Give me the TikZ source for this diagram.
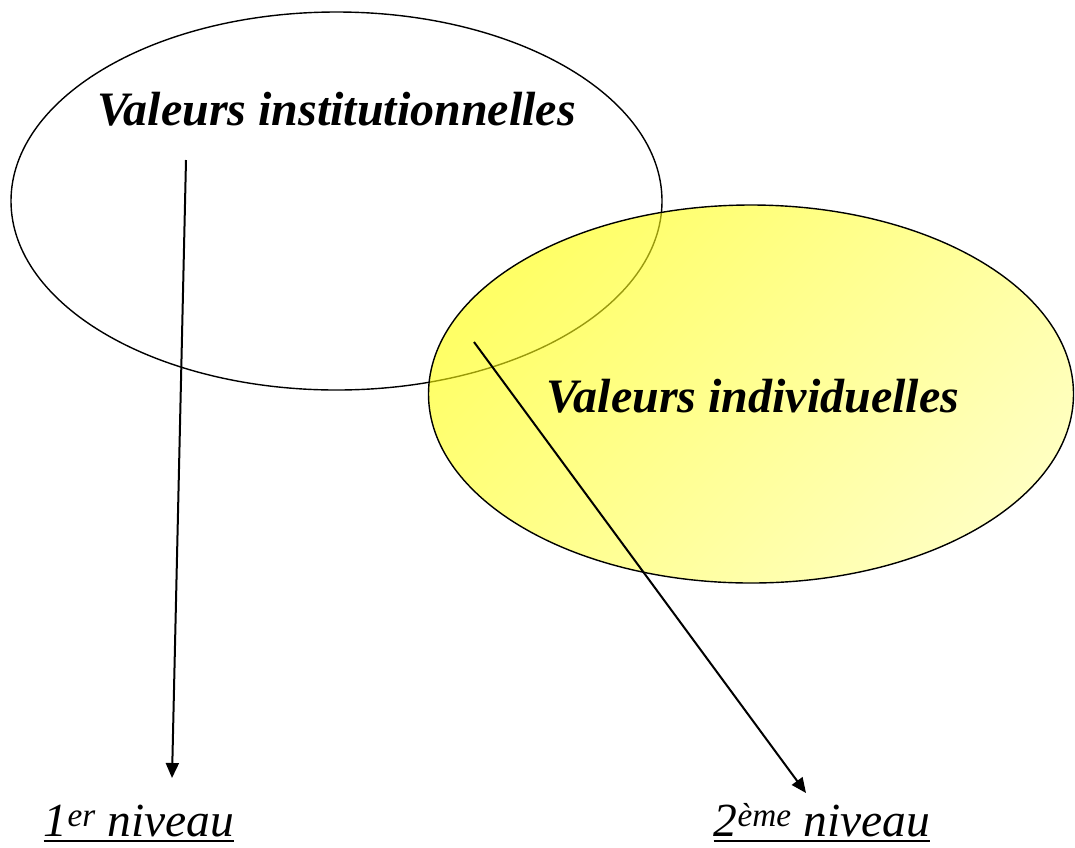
\documentclass[tikz,border=0pt]{standalone}
\usepackage{fontspec}
\setmainfont{Liberation Serif}
\usetikzlibrary{shapes.geometric,arrows.meta}

\definecolor{yelA}{RGB}{255,255,0}
\definecolor{yelB}{RGB}{255,255,150}

\tikzset{
  oval/.style={ellipse, draw=black, line width=1.4pt, inner sep=0pt},
  title/.style={anchor=base, inner sep=0pt, font=\fontsize{48}{52}\selectfont\bfseries\itshape},
  level/.style={anchor=base, inner sep=0pt, text depth=0pt, font=\fontsize{47.5}{52}\selectfont\itshape},
  rule/.style={line width=2pt},
  link/.style={line width=2pt, -{Triangle[length=15pt,width=13pt]}}
}

\begin{document}
\begin{tikzpicture}[x=1pt,y=-1pt]
  \useasboundingbox (0,0) rectangle (1075,847);
  \fill[white] (0,0) rectangle (1075,847);

  % institutional values
  \node[oval, minimum width=651pt, minimum height=378pt] (inst) at (336.5,201) {};
  % individual values, translucent yellow over the first oval
  \node[oval, minimum width=645pt, minimum height=378pt,
        left color=yelA, right color=yelB, shading angle=45,
        fill opacity=0.6] (indiv) at (751,394) {};

  \node[title] (tinst) at (336.5,125) {Valeurs institutionnelles};
  \node[title] (tindiv) at (753,412) {Valeurs individuelles};

  \node[level] (niv1) at (139,836) {1\textsuperscript{er} niveau};
  \node[level] (niv2) at (822,836) {2\textsuperscript{ème} niveau};
  \draw[rule] ([yshift=-5pt]niv1.base west) -- ([yshift=-5pt]niv1.base east);
  \draw[rule] ([yshift=-5pt]niv2.base west) -- ([yshift=-5pt]niv2.base east);

  \coordinate (s1) at (186,160);
  \coordinate (e1) at (172,778);
  \coordinate (s2) at (474,342);
  \coordinate (e2) at (806,793);

  \draw[link] (s1) -- (e1);
  \draw[link] (s2) -- (e2);
\end{tikzpicture}
\end{document}
